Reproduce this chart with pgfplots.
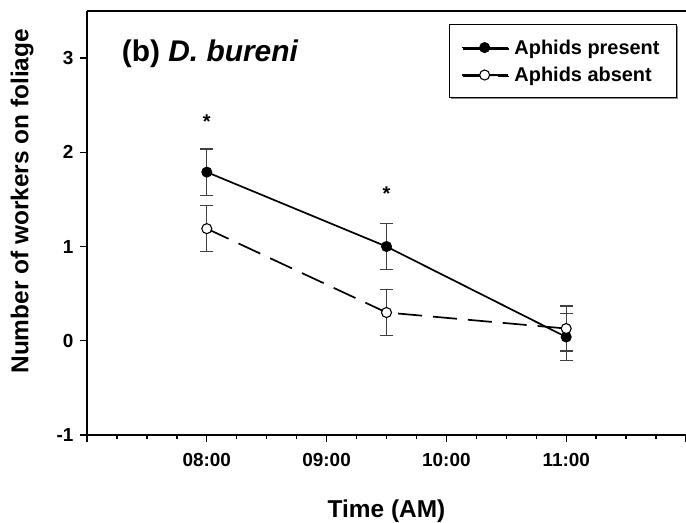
\documentclass[border=0pt]{standalone}
\usepackage{fontspec}
\setmainfont{Liberation Sans}
\usepackage{pgfplots}
\pgfplotsset{compat=1.18}
\usetikzlibrary{shadows}
\begin{document}
\begin{tikzpicture}
\useasboundingbox (-87bp,-88bp) rectangle (599bp,435bp);
\begin{axis}[
  at={(0,0)}, anchor=south west,
  scale only axis, width=599bp, height=424bp,
  xmin=7, xmax=12, ymin=-1, ymax=3.5,
  axis x line*=bottom, axis y line*=left,
  axis line style={line width=2.2bp, -},
  xtick={7,8,9,10,11,12},
  xticklabels={,08:00,09:00,10:00,11:00,},
  minor x tick num=3,
  ytick={-1,0,1,2,3},
  tick align=outside,
  major tick length=7bp, minor tick length=4bp,
  every tick/.style={black, line width=1.4bp},
  /pgf/number format/assume math mode=true,
  tick label style={font=\bfseries\fontsize{19}{19}\selectfont},
  xticklabel style={yshift=-8bp},
  yticklabel style={xshift=-3bp},
  xlabel={Time (AM)},
  xlabel style={font=\bfseries\fontsize{24.5}{24.5}\selectfont, at={(rel axis cs:0.5,0)}, anchor=base, yshift=-82bp},
  clip=false,
  legend style={at={(rel axis cs:0.985,0.969)}, anchor=north east, draw=black, line width=1bp,
    font=\bfseries\fontsize{20}{20}\selectfont, inner xsep=11bp, inner ysep=13bp, row sep=7.5bp,
    nodes={inner xsep=6bp},
    drop shadow={shadow xshift=1.5bp, shadow yshift=-1.5bp, fill=black!45, opacity=1}},
  legend cell align=left,
  legend image code/.code={\draw[mark repeat=2, mark phase=2, #1, solid] plot coordinates {(0bp,0bp) (23bp,0bp) (46bp,0bp)};},
]
\draw[line width=2.2bp] (rel axis cs:0,1) -- (rel axis cs:1,1);

\addplot[black, line width=1.7bp, mark=*, mark size=5bp,
  mark options={solid, fill=black, draw=black, line width=1bp},
  error bars/.cd, y dir=both, y explicit,
  error bar style={line width=1.3bp, black!75, solid},
  error mark options={rotate=90, mark size=6.5bp, line width=1.3bp, black!75, solid}]
  coordinates {(8,1.79) +- (0,0.245) (9.5,1.0) +- (0,0.245) (11,0.04) +- (0,0.25)};
\addlegendentry{Aphids present}

\addplot[black, line width=1.7bp, dash pattern=on 24bp off 11bp, mark=*, mark size=5bp,
  mark options={solid, fill=white, draw=black, line width=1.1bp},
  error bars/.cd, y dir=both, y explicit,
  error bar style={line width=1.3bp, black!75, solid},
  error mark options={rotate=90, mark size=6.5bp, line width=1.3bp, black!75, solid}]
  coordinates {(8,1.19) +- (0,0.245) (9.5,0.30) +- (0,0.245) (11,0.13) +- (0,0.24)};
\addlegendentry{Aphids absent}

\node[rotate=90, anchor=center, inner sep=0pt, font=\bfseries\fontsize{24.5}{24.5}\selectfont]
  at (rel axis cs:-0.1085,0.551) {Number of workers on foliage};
\node[anchor=base west, inner sep=0pt, font=\bfseries\fontsize{30}{30}\selectfont]
  at (rel axis cs:0.058,0.88) {(b) \textit{D. bureni}};
\node[anchor=base, inner sep=0pt, font=\bfseries\fontsize{20}{20}\selectfont] at (axis cs:8,2.255) {*};
\node[anchor=base, inner sep=0pt, font=\bfseries\fontsize{20}{20}\selectfont] at (axis cs:9.5,1.49) {*};
\end{axis}
\end{tikzpicture}
\end{document}
